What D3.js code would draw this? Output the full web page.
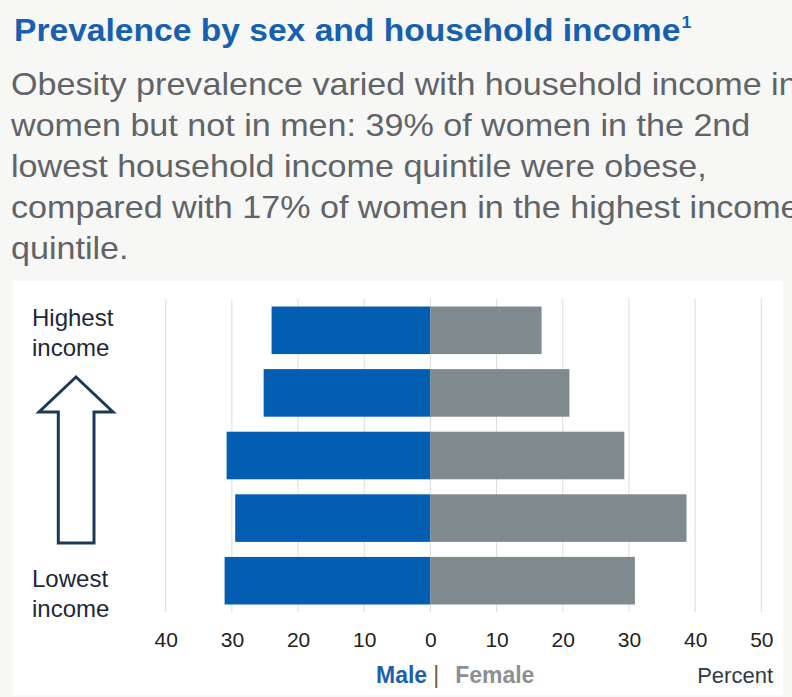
<!DOCTYPE html>
<html>
<head>
<meta charset="utf-8">
<script src="https://cdn.jsdelivr.net/npm/d3@7"></script>
<style>
  html, body { margin: 0; padding: 0; background: #f7f7f5; overflow: hidden; }
  svg { display: block; font-family: "Liberation Sans", Arial, sans-serif; }
</style>
</head>
<body>
<svg id="chart" width="792" height="697"></svg>
<script>
// ---- data ----
const categories = ["Highest", "Q4", "Q3", "Q2", "Lowest"];
const maleValues = [24.0, 25.2, 30.8, 29.5, 31.1];
const femaleValues = [16.8, 21.0, 29.3, 38.7, 30.9];
const tickValues = [-40, -30, -20, -10, 0, 10, 20, 30, 40, 50];
const titleText = "Prevalence by sex and household income";
const bodyLines = [
  "Obesity prevalence varied with household income in",
  "women but not in men: 39% of women in the 2nd",
  "lowest household income quintile were obese,",
  "compared with 17% of women in the highest income",
  "quintile."
];

const svg = d3.select("#chart");

// title
const title = svg.append("text")
  .attr("transform", "translate(14,41) scale(1.05,1)")
  .attr("font-size", 32).attr("font-weight", "bold")
  .attr("fill", "#1560b0")
  .text(titleText);
title.append("tspan").attr("font-size", 17).attr("dy", -13).attr("dx", 1).text("1");

// body text
svg.append("g").selectAll("text").data(bodyLines).join("text")
  .attr("transform", (d, i) => `translate(11,${95 + i * 41}) scale(1.066,1)`)
  .attr("font-size", 32)
  .attr("fill", "#606468")
  .text(d => d);

// chart panel
svg.append("rect").attr("x", 13).attr("y", 281).attr("width", 770).attr("height", 414)
  .attr("fill", "#ffffff");

const x = d3.scaleLinear().domain([-40, 50]).range([165.7, 761.3]);
const y = d3.scaleBand().domain(categories).range([299, 612]).paddingInner(0.24).paddingOuter(0.12);

// gridlines
svg.append("g").selectAll("line").data(tickValues).join("line")
  .attr("x1", d => x(d)).attr("x2", d => x(d))
  .attr("y1", 299).attr("y2", 612)
  .attr("stroke", "#dcdcdc").attr("stroke-width", 1);

// bars
const rows = categories.map((c, i) => ({ c, m: maleValues[i], f: femaleValues[i] }));
svg.append("g").selectAll("rect").data(rows).join("rect")
  .attr("x", d => x(-d.m)).attr("y", d => y(d.c))
  .attr("width", d => x(0) - x(-d.m)).attr("height", y.bandwidth())
  .attr("fill", "#035eb2");
svg.append("g").selectAll("rect").data(rows).join("rect")
  .attr("x", x(0)).attr("y", d => y(d.c))
  .attr("width", d => x(d.f) - x(0)).attr("height", y.bandwidth())
  .attr("fill", "#7f8a8f");

// axis
const axis = d3.axisBottom(x).tickValues(tickValues).tickFormat(d => Math.abs(d)).tickSize(0).tickPadding(0);
const ax = svg.append("g").attr("transform", "translate(0,647)").call(axis);
ax.select(".domain").remove();
ax.selectAll("text").attr("y", 0).attr("dy", 0).attr("font-size", 21).attr("fill", "#222")
  .attr("font-family", "Liberation Sans, Arial, sans-serif");

// left labels
const labelG = svg.append("g").attr("font-size", 24).attr("fill", "#1c2838");
[["Highest", 326], ["income", 355.5], ["Lowest", 587], ["income", 617]].forEach(([t, yy]) => {
  labelG.append("text").attr("x", 32).attr("y", yy).text(t);
});

// arrow
const arrowPts = [[76, 377], [113, 412], [94, 412], [94, 543], [58.3, 543], [58.3, 412], [39, 412]];
svg.append("path")
  .attr("d", d3.line()(arrowPts) + "Z")
  .attr("fill", "#ffffff").attr("stroke", "#1c3a58").attr("stroke-width", 3)
  .attr("stroke-linejoin", "miter");

// legend
const leg = svg.append("text").attr("y", 683).attr("font-size", 23);
leg.append("tspan").attr("x", 376).attr("font-weight", "bold").attr("fill", "#1a5fb0").text("Male");
leg.append("tspan").attr("dx", 6).attr("fill", "#7a5a30").text("|");
leg.append("tspan").attr("dx", 16).attr("font-weight", "bold").attr("fill", "#8a9095").text("Female");
svg.append("text").attr("x", 773).attr("y", 683).attr("text-anchor", "end")
  .attr("font-size", 22).attr("fill", "#2e3a48").text("Percent");
</script>
</body>
</html>
